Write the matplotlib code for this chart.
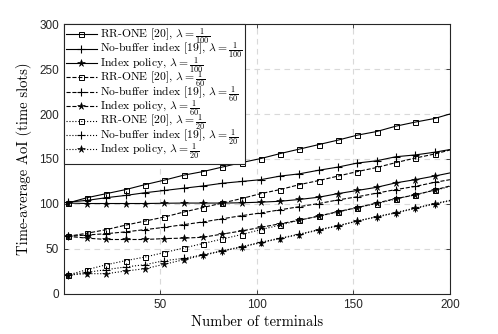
import numpy as np
import matplotlib
matplotlib.use("Agg")
import matplotlib.pyplot as plt

plt.rcParams['mathtext.fontset'] = 'cm'
plt.rcParams['axes.unicode_minus'] = False

terminals = [2, 12, 22, 32, 42, 52, 62, 72, 82, 92, 102, 112, 122, 132, 142, 152, 162, 172, 182, 192, 200]

rr_one_100 = [101, 107, 111.5, 116, 121.5, 126.5, 132, 136, 141, 146, 150.5, 156, 161, 166, 171, 176.5, 180.5, 186.5, 191, 195, 200]
nobuf_100 = [102, 104, 107, 109.5, 112.5, 115, 117.5, 120, 123, 125, 127, 131, 133.5, 137.5, 141, 145.5, 148, 152.5, 154.5, 157.5, 160.5]
index_100 = [101, 100.5, 100.5, 100.5, 100.5, 100.8, 101, 101, 101, 101.3, 102, 103, 105, 107.5, 111.5, 115, 118.5, 123.5, 127, 131, 134.5]

rr_one_60 = [64, 67.5, 71.5, 76.5, 81, 85.5, 91, 96, 101, 106, 111.5, 116, 121.5, 126, 131, 136, 140.5, 146, 151, 155.5, 160]
nobuf_60 = [64, 65.5, 67, 69, 71.5, 74, 77, 80, 83.5, 87, 90, 93.5, 97, 100.5, 104.5, 108, 112, 116, 119.5, 124, 127]
index_60 = [64, 62, 60.5, 60.5, 60.5, 61.5, 62, 63, 66.5, 70, 74, 78, 82, 86.5, 91.5, 96, 101, 106, 110, 115.5, 120]

rr_one_20 = [21, 27, 32.5, 37, 41, 46, 51, 56, 61, 66, 71.5, 76.5, 82, 86.5, 91, 96, 100.5, 105.5, 110.5, 115, 119.5]
nobuf_20 = [21, 24, 27, 30, 32.5, 37, 39.5, 43.5, 48, 52.5, 57.5, 62, 66.5, 71.5, 76, 81, 86, 90.5, 95.5, 100.5, 104]
index_20 = [21, 22.5, 22.5, 25.5, 28, 33, 38, 43, 47.5, 52, 57, 61.5, 66, 71, 75.5, 81, 85.5, 90, 95, 100, 103.5]

labels = [
    r'RR-ONE [20], $\lambda = \frac{1}{100}$',
    r'No-buffer index [19], $\lambda = \frac{1}{100}$',
    r'Index policy, $\lambda = \frac{1}{100}$',
    r'RR-ONE [20], $\lambda = \frac{1}{60}$',
    r'No-buffer index [19], $\lambda = \frac{1}{60}$',
    r'Index policy, $\lambda = \frac{1}{60}$',
    r'RR-ONE [20], $\lambda = \frac{1}{20}$',
    r'No-buffer index [19], $\lambda = \frac{1}{20}$',
    r'Index policy, $\lambda = \frac{1}{20}$',
]

series = [rr_one_100, nobuf_100, index_100, rr_one_60, nobuf_60, index_60, rr_one_20, nobuf_20, index_20]
styles = ['-', '-', '-', '--', '--', '--', ':', ':', ':']
markers = ['s', '+', '*', 's', '+', '*', 's', '+', '*']

fig = plt.figure(figsize=(4.98, 3.34), dpi=100)
ax = fig.add_axes([0.1285, 0.12, 0.775, 0.808])

for y, ls, mk, lab in zip(series, styles, markers, labels):
    kw = dict(color='black', linestyle=ls, linewidth=0.8, marker=mk,
              markevery=slice(0, len(terminals) - 1), label=lab)
    if mk == 's':
        kw.update(markersize=3.6, markerfacecolor='none', markeredgewidth=0.7)
    elif mk == '+':
        kw.update(markersize=6, markeredgewidth=0.8)
    else:
        kw.update(markersize=5.5, markerfacecolor='black', markeredgewidth=0.4)
    ax.plot(terminals, y, **kw)

ax.set_xlim(0, 200)
ax.set_ylim(0, 300)
ax.set_xticks([50, 100, 150, 200])
ax.set_yticks([0, 50, 100, 150, 200, 250, 300])
ax.grid(True, linestyle=(0, (5, 4)), color='#d9d9d9', linewidth=0.8)
ax.set_axisbelow(True)
ax.tick_params(direction='in', top=True, right=True, length=3, width=0.6,
               labelsize=8.5, colors='#262626', labelcolor='#262626')
for sp in ax.spines.values():
    sp.set_color('#262626')
    sp.set_linewidth(0.8)
for lbl in ax.get_xticklabels() + ax.get_yticklabels():
    lbl.set_family('Liberation Sans')

ax.set_xlabel('Number of terminals', family='cmr10', fontsize=10.5, labelpad=3)
ax.set_ylabel('Time-average AoI (time slots)', family='cmr10', fontsize=10.5, labelpad=5)

leg = ax.legend(loc='upper left', borderaxespad=0, fancybox=False, frameon=True,
                prop={'family': 'cmr10', 'size': 8.4}, handlelength=2.6,
                handletextpad=0.25, labelspacing=-0.45, borderpad=0.2, framealpha=1)
leg.get_frame().set_edgecolor('#262626')
leg.get_frame().set_linewidth(0.8)

fig.savefig('out.png', dpi=100)
